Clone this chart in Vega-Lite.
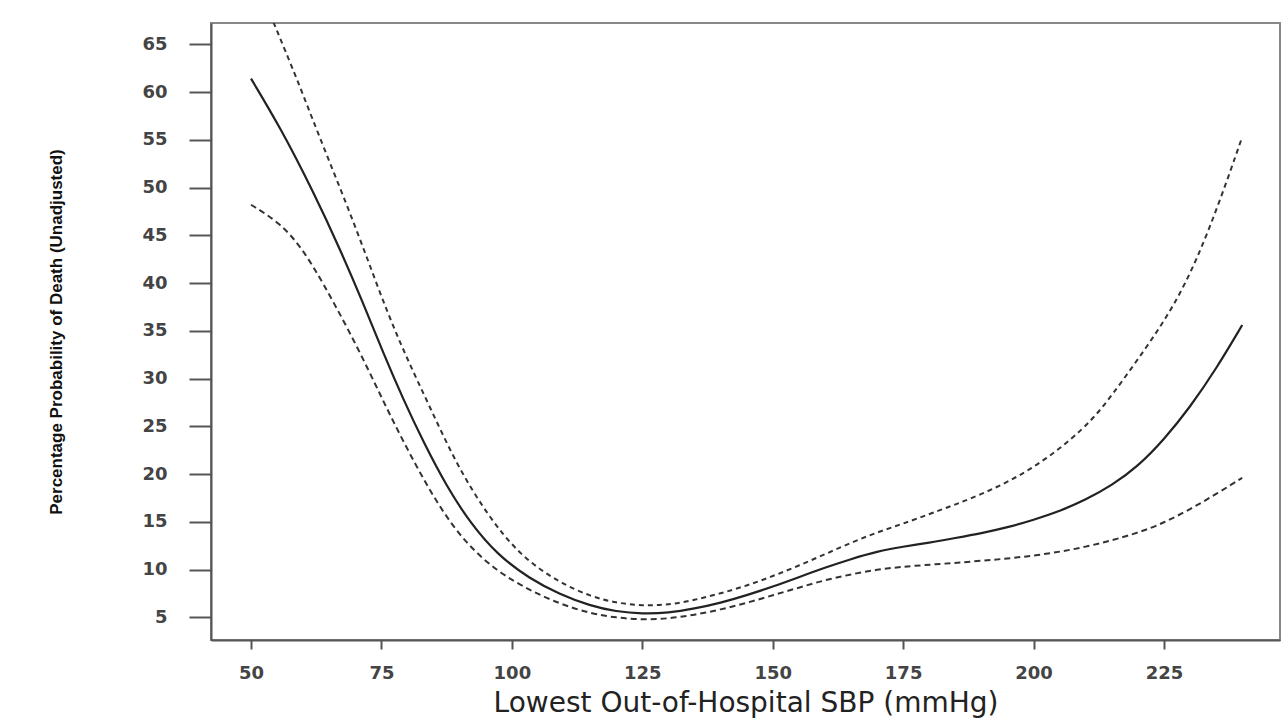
{
  "$schema": "https://vega.github.io/schema/vega-lite/v6.json",
  "autosize": {"type": "none"},
  "padding": {"left": 211, "top": 23, "right": 1, "bottom": 80},
  "width": 1069,
  "height": 617,
  "background": "white",
  "config": {
    "view": {"stroke": "#888", "strokeWidth": 2, "fill": "white"},
    "axis": {"grid": false}
  },
  "data": {"values": [
    {"sbp": 50, "p": 61.4, "s": "fit"},
    {"sbp": 55.6, "p": 56.3, "s": "fit"},
    {"sbp": 62.0, "p": 49.5, "s": "fit"},
    {"sbp": 67.1, "p": 43.5, "s": "fit"},
    {"sbp": 71.5, "p": 37.9, "s": "fit"},
    {"sbp": 75.4, "p": 32.6, "s": "fit"},
    {"sbp": 79.2, "p": 27.8, "s": "fit"},
    {"sbp": 83.0, "p": 23.4, "s": "fit"},
    {"sbp": 87.5, "p": 18.7, "s": "fit"},
    {"sbp": 92.0, "p": 14.9, "s": "fit"},
    {"sbp": 97.1, "p": 11.6, "s": "fit"},
    {"sbp": 103.5, "p": 9.0, "s": "fit"},
    {"sbp": 109.2, "p": 7.4, "s": "fit"},
    {"sbp": 115, "p": 6.2, "s": "fit"},
    {"sbp": 120, "p": 5.6, "s": "fit"},
    {"sbp": 125, "p": 5.35, "s": "fit"},
    {"sbp": 130, "p": 5.45, "s": "fit"},
    {"sbp": 135, "p": 5.9, "s": "fit"},
    {"sbp": 140, "p": 6.5, "s": "fit"},
    {"sbp": 145, "p": 7.3, "s": "fit"},
    {"sbp": 150, "p": 8.2, "s": "fit"},
    {"sbp": 155, "p": 9.2, "s": "fit"},
    {"sbp": 160, "p": 10.2, "s": "fit"},
    {"sbp": 165, "p": 11.1, "s": "fit"},
    {"sbp": 170, "p": 11.9, "s": "fit"},
    {"sbp": 175, "p": 12.4, "s": "fit"},
    {"sbp": 180, "p": 12.8, "s": "fit"},
    {"sbp": 185, "p": 13.3, "s": "fit"},
    {"sbp": 190, "p": 13.8, "s": "fit"},
    {"sbp": 195, "p": 14.4, "s": "fit"},
    {"sbp": 200, "p": 15.2, "s": "fit"},
    {"sbp": 205, "p": 16.1, "s": "fit"},
    {"sbp": 210, "p": 17.3, "s": "fit"},
    {"sbp": 215, "p": 18.8, "s": "fit"},
    {"sbp": 220, "p": 20.8, "s": "fit"},
    {"sbp": 225, "p": 23.6, "s": "fit"},
    {"sbp": 230, "p": 27.0, "s": "fit"},
    {"sbp": 235, "p": 31.0, "s": "fit"},
    {"sbp": 240, "p": 35.6, "s": "fit"},

    {"sbp": 54.3, "p": 67.3, "s": "upper"},
    {"sbp": 58.8, "p": 61.4, "s": "upper"},
    {"sbp": 62.6, "p": 56.0, "s": "upper"},
    {"sbp": 68.3, "p": 48.3, "s": "upper"},
    {"sbp": 72.2, "p": 42.7, "s": "upper"},
    {"sbp": 76.0, "p": 37.1, "s": "upper"},
    {"sbp": 79.8, "p": 32.2, "s": "upper"},
    {"sbp": 84.3, "p": 27.0, "s": "upper"},
    {"sbp": 89.4, "p": 21.0, "s": "upper"},
    {"sbp": 95.2, "p": 15.8, "s": "upper"},
    {"sbp": 101.6, "p": 11.4, "s": "upper"},
    {"sbp": 109.2, "p": 8.6, "s": "upper"},
    {"sbp": 115, "p": 7.2, "s": "upper"},
    {"sbp": 120, "p": 6.5, "s": "upper"},
    {"sbp": 125, "p": 6.2, "s": "upper"},
    {"sbp": 130, "p": 6.3, "s": "upper"},
    {"sbp": 135, "p": 6.8, "s": "upper"},
    {"sbp": 140, "p": 7.5, "s": "upper"},
    {"sbp": 145, "p": 8.3, "s": "upper"},
    {"sbp": 150, "p": 9.3, "s": "upper"},
    {"sbp": 155, "p": 10.4, "s": "upper"},
    {"sbp": 160, "p": 11.6, "s": "upper"},
    {"sbp": 165, "p": 12.8, "s": "upper"},
    {"sbp": 170, "p": 13.9, "s": "upper"},
    {"sbp": 175, "p": 14.8, "s": "upper"},
    {"sbp": 180, "p": 15.8, "s": "upper"},
    {"sbp": 190, "p": 17.8, "s": "upper"},
    {"sbp": 200, "p": 20.5, "s": "upper"},
    {"sbp": 210, "p": 24.8, "s": "upper"},
    {"sbp": 215, "p": 28.2, "s": "upper"},
    {"sbp": 221.7, "p": 33.3, "s": "upper"},
    {"sbp": 226.8, "p": 37.5, "s": "upper"},
    {"sbp": 231.3, "p": 42.4, "s": "upper"},
    {"sbp": 235.8, "p": 48.7, "s": "upper"},
    {"sbp": 240, "p": 55.3, "s": "upper"},

    {"sbp": 50, "p": 48.2, "s": "lower"},
    {"sbp": 55.6, "p": 46.3, "s": "lower"},
    {"sbp": 60.0, "p": 43.5, "s": "lower"},
    {"sbp": 63.9, "p": 39.9, "s": "lower"},
    {"sbp": 68.3, "p": 35.5, "s": "lower"},
    {"sbp": 72.8, "p": 30.6, "s": "lower"},
    {"sbp": 76.6, "p": 26.2, "s": "lower"},
    {"sbp": 81.1, "p": 21.4, "s": "lower"},
    {"sbp": 85.6, "p": 17.0, "s": "lower"},
    {"sbp": 90.7, "p": 13.0, "s": "lower"},
    {"sbp": 97.1, "p": 9.8, "s": "lower"},
    {"sbp": 103.5, "p": 7.8, "s": "lower"},
    {"sbp": 109.2, "p": 6.4, "s": "lower"},
    {"sbp": 115, "p": 5.4, "s": "lower"},
    {"sbp": 120, "p": 4.95, "s": "lower"},
    {"sbp": 125, "p": 4.75, "s": "lower"},
    {"sbp": 130, "p": 4.85, "s": "lower"},
    {"sbp": 135, "p": 5.25, "s": "lower"},
    {"sbp": 140, "p": 5.8, "s": "lower"},
    {"sbp": 145, "p": 6.5, "s": "lower"},
    {"sbp": 150, "p": 7.3, "s": "lower"},
    {"sbp": 155, "p": 8.1, "s": "lower"},
    {"sbp": 160, "p": 8.9, "s": "lower"},
    {"sbp": 165, "p": 9.5, "s": "lower"},
    {"sbp": 170, "p": 10.0, "s": "lower"},
    {"sbp": 175, "p": 10.3, "s": "lower"},
    {"sbp": 180, "p": 10.5, "s": "lower"},
    {"sbp": 190, "p": 10.9, "s": "lower"},
    {"sbp": 200, "p": 11.4, "s": "lower"},
    {"sbp": 210, "p": 12.3, "s": "lower"},
    {"sbp": 220, "p": 13.8, "s": "lower"},
    {"sbp": 225, "p": 14.9, "s": "lower"},
    {"sbp": 230, "p": 16.3, "s": "lower"},
    {"sbp": 235, "p": 17.9, "s": "lower"},
    {"sbp": 240, "p": 19.6, "s": "lower"}
  ]},
  "encoding": {
    "x": {
      "field": "sbp", "type": "quantitative",
      "scale": {"domain": [42.33, 247.24], "nice": false, "zero": false},
      "axis": {
        "values": [50, 75, 100, 125, 150, 175, 200, 225],
        "title": "Lowest Out-of-Hospital SBP (mmHg)",
        "domainColor": "#555", "domainWidth": 2,
        "tickColor": "#555", "tickWidth": 2, "tickSize": 9,
        "labelFont": "DejaVu Sans", "labelFontSize": 18, "labelFontWeight": "bold",
        "labelColor": "#444", "labelPadding": 15,
        "titleFont": "DejaVu Sans", "titleFontSize": 28, "titleFontWeight": "normal",
        "titleColor": "#222", "titlePadding": 7
      }
    },
    "y": {
      "field": "p", "type": "quantitative",
      "scale": {"domain": [2.62, 67.23], "nice": false, "zero": false},
      "axis": {
        "values": [5, 10, 15, 20, 25, 30, 35, 40, 45, 50, 55, 60, 65],
        "title": "Percentage Probability of Death (Unadjusted)",
        "domainColor": "#555", "domainWidth": 2,
        "tickColor": "#555", "tickWidth": 2, "tickSize": 22,
        "labelFont": "DejaVu Sans", "labelFontSize": 18, "labelFontWeight": "bold",
        "labelColor": "#444", "labelPadding": 22,
        "titleFont": "Liberation Sans",
        "titleFontSize": 17, "titleFontWeight": "bold",
        "titleColor": "#111", "titlePadding": 76
      }
    }
  },
  "layer": [
    {
      "transform": [{"filter": "datum.s === 'upper'"}],
      "mark": {"type": "line", "interpolate": "basis", "color": "#333", "strokeWidth": 2, "strokeDash": [5, 4], "clip": true}
    },
    {
      "transform": [{"filter": "datum.s === 'lower'"}],
      "mark": {"type": "line", "interpolate": "basis", "color": "#333", "strokeWidth": 2, "strokeDash": [6, 4], "clip": true}
    },
    {
      "transform": [{"filter": "datum.s === 'fit'"}],
      "mark": {"type": "line", "interpolate": "basis", "color": "#222", "strokeWidth": 2.2, "clip": true}
    }
  ]
}
